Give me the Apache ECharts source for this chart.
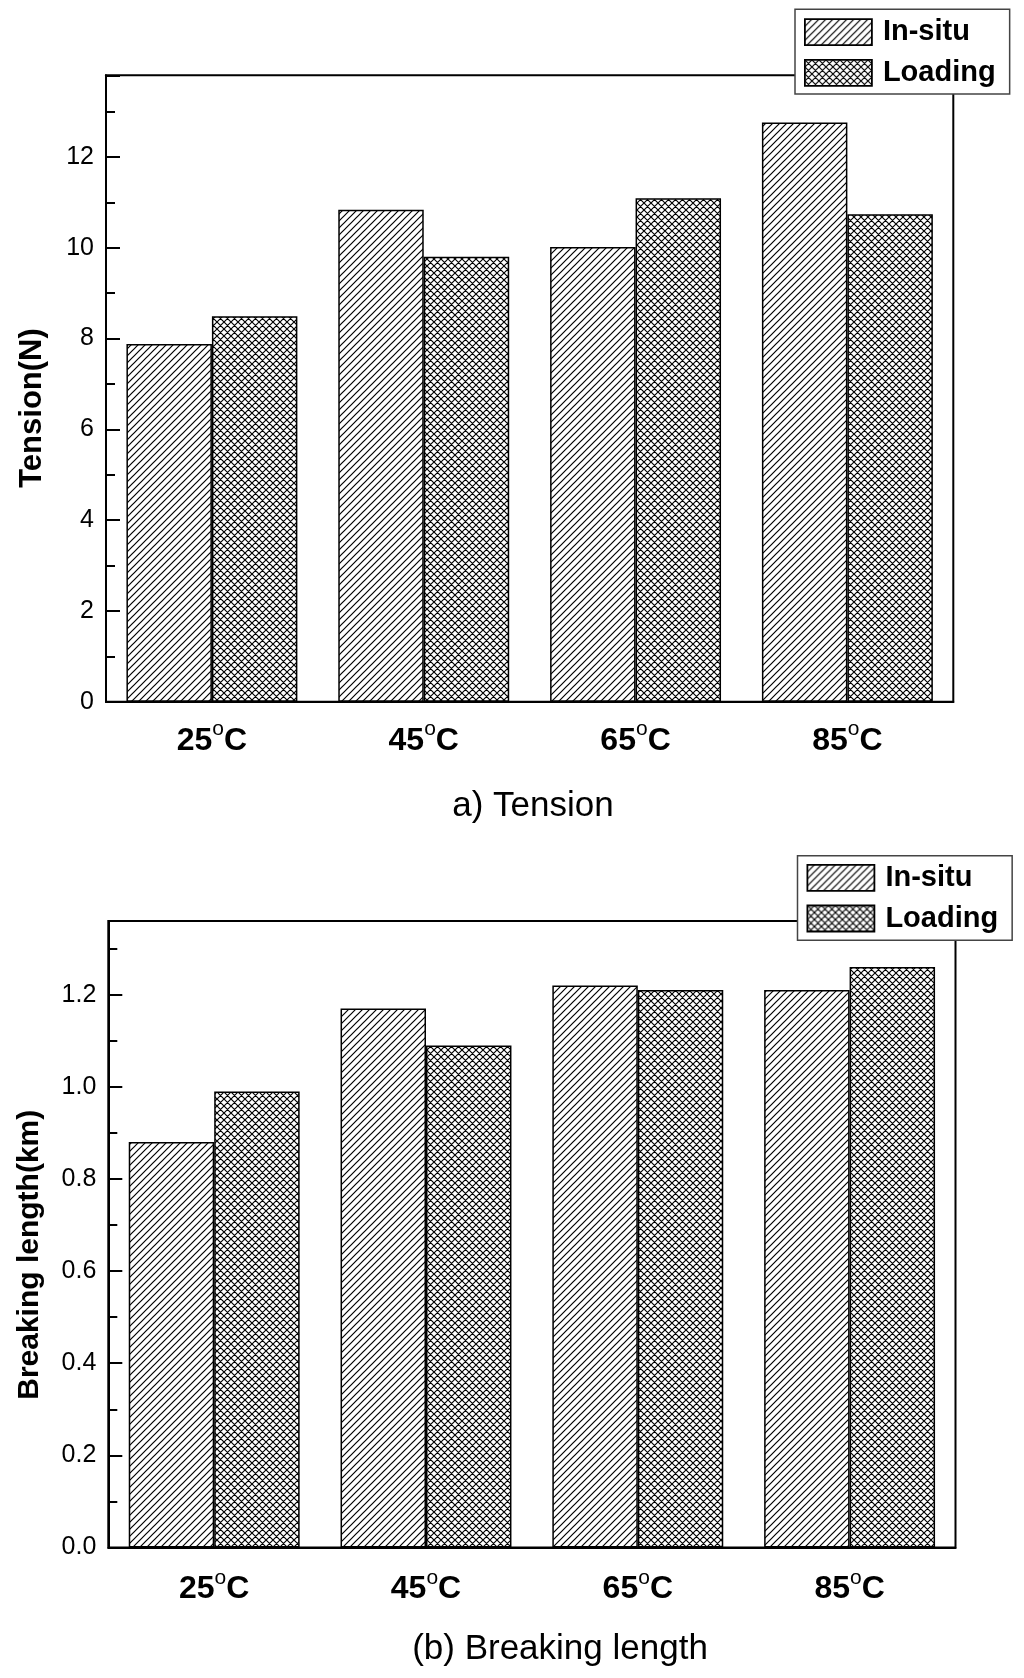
<!DOCTYPE html>
<html>
<head>
<meta charset="utf-8">
<script src="https://cdn.jsdelivr.net/npm/echarts@6/dist/echarts.min.js"></script>
<style>
html,body{margin:0;padding:0;background:#fff;}
#chart{width:1024px;height:1678px;}
</style>
</head>
<body>
<div id="chart"></div>
<script>
// ---------------- data ----------------
const categories = ['25°C', '45°C', '65°C', '85°C'];
const seriesNames = ['In-situ', 'Loading'];
const tensionInSitu = [7.88, 10.84, 10.02, 12.76];
const tensionLoading = [8.49, 9.80, 11.09, 10.74];
const breakingInSitu = [0.88, 1.17, 1.22, 1.21];
const breakingLoading = [0.99, 1.09, 1.21, 1.26];
const tensionAxisRange = [0, 13.8];
const tensionTickStep = 2;
const breakingAxisRange = [0, 1.36];
const breakingTickStep = 0.2;
const titles = ['a) Tension', '(b) Breaking length'];
const yNames = ['Tension(N)', 'Breaking length(km)'];

// ---------------- patterns ----------------
function hatch(cross) {
  const s = 7;
  const c = document.createElement('canvas');
  c.width = s; c.height = s;
  const g = c.getContext('2d');
  g.fillStyle = '#fff';
  g.fillRect(0, 0, s, s);
  g.strokeStyle = '#000';
  g.lineWidth = cross ? 1.15 : 1.2;
  g.beginPath();
  g.moveTo(-1, s + 1); g.lineTo(s + 1, -1);
  g.moveTo(-1, 1); g.lineTo(1, -1);
  g.moveTo(s - 1, s + 1); g.lineTo(s + 1, s - 1);
  if (cross) {
    g.moveTo(-1, -1); g.lineTo(s + 1, s + 1);
    g.moveTo(s - 1, -1); g.lineTo(s + 1, 1);
    g.moveTo(-1, s - 1); g.lineTo(1, s + 1);
  }
  g.stroke();
  return c;
}
const patInSitu = { image: hatch(false), repeat: 'repeat' };
const patLoading = { image: hatch(true), repeat: 'repeat' };

const FONT = '"Liberation Sans", Arial, sans-serif';

function xLabel(margin) {
  return {
    margin: margin,
    interval: 0,
    formatter: v => '{n|' + v.replace('°C', '') + '}{o|o}{n|C}',
    rich: {
      n: { fontFamily: FONT, fontWeight: 'bold', fontSize: 32, lineHeight: 36, color: '#000' },
      o: { fontFamily: FONT, fontWeight: 'normal', fontSize: 21, lineHeight: 20, padding: [0, 0, 22, 0], color: '#000' }
    }
  };
}

function evenFmtInt(v) {
  return (Number.isInteger(v) && v % 2 === 0) ? String(v) : '';
}
function evenFmtTenth(v) {
  const k = Math.round(v * 10);
  return (Math.abs(v * 10 - k) < 1e-6 && k % 2 === 0) ? (k / 10).toFixed(1) : '';
}

function yAxisPair(gridIndex, range, step, fmt, name, nameGap, namePad, nameSize) {
  return [
    {
      type: 'value', gridIndex: gridIndex, position: 'left', min: range[0], max: range[1], interval: step / 2,
      name: name, nameLocation: 'middle', nameRotate: 90, nameGap: nameGap,
      nameTextStyle: { fontFamily: FONT, fontWeight: 'bold', fontSize: nameSize, color: '#000', padding: namePad },
      axisLine: { show: true, lineStyle: { color: '#000', width: 2 } },
      axisTick: { show: true, inside: true, length: 9, lineStyle: { color: '#000', width: 2 } },
      axisLabel: { show: true, margin: 12, fontFamily: FONT, fontSize: 25, color: '#000', formatter: fmt, showMaxLabel: false },
      splitLine: { show: false }
    },
    {
      type: 'value', gridIndex: gridIndex, position: 'left', offset: 0, min: range[0], max: range[1], interval: step,
      axisLine: { show: false },
      axisTick: { show: true, inside: true, length: 14, lineStyle: { color: '#000', width: 2 } },
      axisLabel: { show: false },
      splitLine: { show: false }
    }
  ];
}

function legendAt(left, top, pad) {
  return {
    data: seriesNames,
    orient: 'vertical',
    left: left, top: top,
    padding: pad,
    itemGap: 11.7,
    itemWidth: 67, itemHeight: 26,
    icon: 'rect',
    backgroundColor: '#fff',
    borderColor: '#444', borderWidth: 1.5, borderRadius: 0,
    itemStyle: { borderColor: '#000', borderWidth: 1.8 },
    textStyle: { fontFamily: FONT, fontWeight: 'bold', fontSize: 29, color: '#000', lineHeight: 26, padding: [0, 0, 0, 6] },
    selectedMode: false,
    z: 10
  };
}

function barSeries(name, xi, yi, data, pat) {
  return {
    type: 'bar', name: name, xAxisIndex: xi, yAxisIndex: yi, data: data,
    barGap: '0%', barCategoryGap: '19.3%',
    itemStyle: { color: pat, borderColor: '#000', borderWidth: 1.5 },
    emphasis: { disabled: true },
    animation: false
  };
}

const chart = echarts.init(document.getElementById('chart'), null, { renderer: 'canvas' });

const option = {
  backgroundColor: '#fff',
  animation: false,
  grid: [
    { left: 106, right: 70.7, top: 75.3, height: 626.4, show: true, borderColor: '#000', borderWidth: 2, backgroundColor: 'transparent' },
    { left: 108.3, right: 68.5, top: 921, height: 626.5, show: true, borderColor: '#000', borderWidth: 2, backgroundColor: 'transparent' }
  ],
  legend: [
    legendAt(795, 9.3, [8.4, 14, 6.6, 9]),
    legendAt(797.5, 855.7, [7.6, 14, 7.3, 9])
  ],
  xAxis: [
    { type: 'category', gridIndex: 0, data: categories,
      axisLine: { lineStyle: { color: '#000', width: 2 } }, axisTick: { show: false },
      axisLabel: xLabel(21), splitLine: { show: false } },
    { type: 'category', gridIndex: 1, data: categories,
      axisLine: { lineStyle: { color: '#000', width: 2 } }, axisTick: { show: false },
      axisLabel: xLabel(23.6), splitLine: { show: false } }
  ],
  yAxis: [].concat(
    yAxisPair(0, tensionAxisRange, tensionTickStep, evenFmtInt, yNames[0], 58, [0, 39, 0, 0], 31),
    yAxisPair(1, breakingAxisRange, breakingTickStep, evenFmtTenth, yNames[1], 63.8, [0, 41, 0, 0], 30)
  ),
  series: [
    barSeries(seriesNames[0], 0, 0, tensionInSitu, patInSitu),
    barSeries(seriesNames[1], 0, 0, tensionLoading, patLoading),
    barSeries(seriesNames[0], 1, 2, breakingInSitu, patInSitu),
    barSeries(seriesNames[1], 1, 2, breakingLoading, patLoading)
  ],
  graphic: [
    { type: 'text', x: 533, y: 806, silent: true,
      style: { text: titles[0], font: '35px ' + FONT, fill: '#000', align: 'center', verticalAlign: 'middle' } },
    { type: 'text', x: 560, y: 1649, silent: true,
      style: { text: titles[1], font: '35px ' + FONT, fill: '#000', align: 'center', verticalAlign: 'middle' } }
  ]
};
chart.setOption(option);
</script>
</body>
</html>
